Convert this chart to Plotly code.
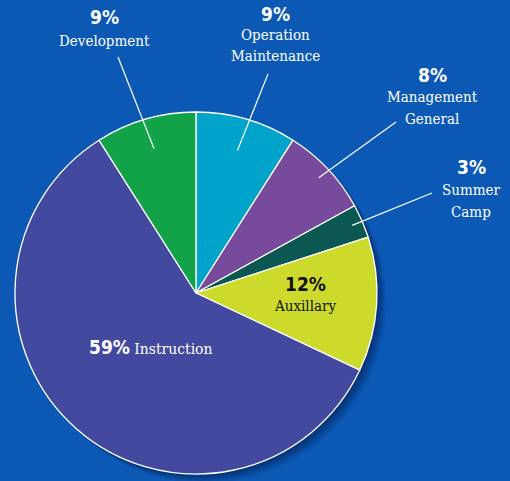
import math
import plotly.graph_objects as go

W, H = 510, 481

# ---- data ----
categories = ["Operation\nMaintenance", "Management\nGeneral", "Summer\nCamp",
              "Auxillary", "Instruction", "Development"]
values = [9, 8, 3, 12, 59, 9]
colors = ["#00a3c9", "#784a9c", "#0b5752", "#ccdb2b", "#43499e", "#12a348"]

# ---- style / layout params ----
BG = "#0b59b5"
LABEL_FONT = "DejaVu Serif Condensed"
PCT_FONT = "DejaVu Sans Condensed"
CX, CY, R = 196, 293, 181  # pixel geometry of the pie


def px(x, y):
    return x / W, 1 - y / H


# outside labels: index -> (pct center x, pct center y, first label line y, line end x, line end y, radius frac)
outside = {
    5: (104, 17, 41, 118, 57, 0.83),
    0: (275, 14, 35, 268, 74, 0.82),
    1: (432, 75, 97, 396, 122, 0.93),
    2: (471, 167, 190, 432, 193, 0.94),
}
LINE_STEP = 21.5

fig = go.Figure()
fig.add_trace(go.Pie(
    labels=[c.replace("\n", " ") for c in categories],
    values=values,
    sort=False,
    direction="clockwise",
    rotation=0,
    marker=dict(colors=colors, line=dict(color="white", width=1.3)),
    textinfo="none",
    hoverinfo="label+percent",
    showlegend=False,
    domain=dict(x=[(CX - R) / W, (CX + R) / W], y=[1 - (CY + R) / H, 1 - (CY - R) / H]),
))

annotations = []
shapes = []

# soft shadow behind the pie (bottom-right)
for off, op in [(9, 0.10), (7, 0.15), (5, 0.2), (3, 0.25)]:
    x0, y0 = px(CX - R + off, CY - R + off)
    x1, y1 = px(CX + R + off, CY + R + off)
    shapes.append(dict(type="circle", xref="paper", yref="paper", x0=x0, y0=y1, x1=x1, y1=y0,
                       fillcolor="rgba(5,30,80,%.2f)" % op, line=dict(width=0), layer="below"))

total = sum(values)
cum = 0
mids = []
for v in values:
    mids.append((cum + v / 2) / total * 2 * math.pi)
    cum += v

for i, (pxc, pyc, ly, ex, ey, f) in outside.items():
    ax, ay = px(pxc, pyc)
    annotations.append(dict(x=ax, y=ay, xref="paper", yref="paper", text="<b>%d%%</b>" % values[i],
                            showarrow=False, xanchor="center", yanchor="middle",
                            font=dict(family=PCT_FONT, size=19, color="white")))
    for k, line in enumerate(categories[i].split("\n")):
        lx, lyy = px(pxc, ly + k * LINE_STEP)
        annotations.append(dict(x=lx, y=lyy, xref="paper", yref="paper", text=line,
                                showarrow=False, xanchor="center", yanchor="middle",
                                font=dict(family=LABEL_FONT, size=15, color="white")))
    th = mids[i]
    sx = CX + R * f * math.sin(th)
    sy = CY - R * f * math.cos(th)
    x0, y0 = px(sx, sy)
    x1, y1 = px(ex, ey)
    shapes.append(dict(type="line", xref="paper", yref="paper", x0=x0, y0=y0, x1=x1, y1=y1,
                       line=dict(color="white", width=1.2), layer="above"))

# Auxillary (inside, dark text)
ax, ay = px(305, 284)
annotations.append(dict(x=ax, y=ay, xref="paper", yref="paper", text="<b>%d%%</b>" % values[3],
                        showarrow=False, xanchor="center", yanchor="middle",
                        font=dict(family=PCT_FONT, size=19, color="#111111")))
ax, ay = px(305, 306)
annotations.append(dict(x=ax, y=ay, xref="paper", yref="paper", text=categories[3],
                        showarrow=False, xanchor="center", yanchor="middle",
                        font=dict(family=LABEL_FONT, size=15, color="#111111")))

# Instruction (inside, one line)
ax, ay = px(151, 347)
annotations.append(dict(
    x=ax, y=ay, xref="paper", yref="paper", showarrow=False, xanchor="center", yanchor="middle",
    text="<span style='font-family:%s;font-size:19px;font-weight:bold'>%d%%</span> %s"
         % (PCT_FONT, values[4], categories[4]),
    font=dict(family=LABEL_FONT, size=15.5, color="white")))

fig.update_layout(
    width=W, height=H,
    margin=dict(l=0, r=0, t=0, b=0),
    paper_bgcolor=BG, plot_bgcolor=BG,
    annotations=annotations, shapes=shapes,
)

fig.write_html("out.html", config={"displayModeBar": False},
               post_script="document.body.style.margin='0';document.body.style.background='%s';" % BG)
